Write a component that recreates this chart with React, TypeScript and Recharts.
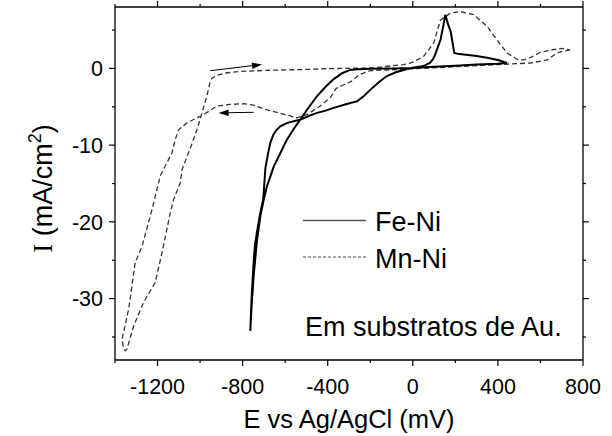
import { LineChart, Line, XAxis, YAxis, Legend, ReferenceLine, Label } from 'recharts';

// Fe-Ni loop, starting at the positive vertex and sweeping cathodically first
const feNiE = [
  443, 400, 300, 200, 100, 0, -100, -200, -260, -294, -330, -372, -410, -450, -490, -530, -560, -592,
  -615, -654, -686, -700, -717, -733, -748, -758, -764,
  -758, -750, -742, -733, -718, -703, -693, -682, -670, -655, -640, -623, -590, -560, -530, -490, -450,
  -410, -372, -330, -294, -262, -230, -200, -160, -122, -80, -43, 0, 50, 80, 95, 105, 118, 130, 143, 153,
  165, 178, 186, 195, 210, 240, 300, 350, 400, 443,
];
const feNiI = [
  0.7, 0.6, 0.5, 0.35, 0.2, 0.05, 0, -0.05, -0.12, -0.2, -0.6, -1.4, -2.4, -3.6, -5.1, -6.7, -7.9, -9.3,
  -10.6, -12.8, -15.4, -17, -19.3, -22.5, -27, -31, -34.2,
  -30, -26, -23, -21.4, -19, -17, -13, -11.3, -9.7, -8.6, -8.0, -7.55, -7.1, -6.9, -6.7, -6.2, -5.8,
  -5.5, -5.15, -4.8, -4.5, -4.3, -3.6, -2.8, -1.8, -1.0, -0.5, -0.2, 0.1, 0.3, 0.7, 1.2, 1.8, 2.8, 3.7, 5.5, 7.0,
  5.8, 4.8, 3.5, 2.0, 1.9, 1.8, 1.6, 1.4, 1.1, 0.7,
];

// Mn-Ni loop, starting at the positive vertex
const mnNiE = [
  740, 700, 678, 631, 553, 396, 239, 82, -75, -200, -250, -290, -330, -360, -388, -435, -497, -544, -576,
  -630, -686, -750, -795, -860, -920, -983, -1062, -1101, -1117, -1132, -1156, -1187, -1211, -1226, -1273,
  -1305, -1336, -1367, -1360, -1352,
  -1344, -1313, -1266, -1211, -1179, -1140, -1125, -1093, -1085, -1046, -1015, -991, -968, -955, -945, -920,
  -880, -811, -686, -529, -388, -200, -43, 0, 51, 98, 130, 177, 224, 286, 349, 396, 443, 490, 521, 560, 600,
  650, 700, 740,
];
const mnNiI = [
  2.4, 2.2, 2.0, 1.1, 0.7, 0.5, 0.27, 0.05, -0.15, -0.3, -0.8, -1.7, -2.2, -2.6, -3.8, -4.9, -6.0, -6.45, -6.2,
  -5.8, -5.4, -4.8, -4.6, -4.7, -4.9, -6.0, -7.1, -8.0, -9.3, -11.0, -12.3, -14.0, -16.7, -18.4, -23.2,
  -25.3, -31.4, -35.3, -36.5, -36.8,
  -36.6, -33.6, -30.5, -27.9, -24.0, -18.8, -17.1, -14.9, -13.2, -10.4, -8.0, -5.8, -3.6, -2.0, -1.3, -0.9,
  -0.6, -0.4, -0.25, -0.16, -0.03, 0.05, 0.49, 0.8, 1.57, 3.3, 6.3, 7.2, 7.4, 7.0, 5.5, 3.7, 2.0, 1.2, 1.1, 1.5, 2.1,
  2.4, 2.6, 2.4,
];

// sweep-direction arrows: [E start, I start, E head, I head]
const sweepArrows = [
  [-952, -0.3, -709, 0.5],
  [-748, -5.72, -913, -5.8],
];

const xTicks = [-1400, -1200, -1000, -800, -600, -400, -200, 0, 200, 400, 600, 800];
const yTicks = [-35, -30, -25, -20, -15, -10, -5, 0, 5];

const FONT = '"Liberation Sans", Arial, sans-serif';

const feNiData = feNiE.map((e, k) => ({ e, i: feNiI[k] }));
const mnNiData = mnNiE.map((e, k) => ({ e, i: mnNiI[k] }));

const TICK = 6;
const MINOR = 3;

function BottomTick({ x, y, payload }: any) {
  const v = payload.value;
  const major = v % 400 === 0;
  const y0 = y - TICK - 13;
  return (
    <g>
      <line x1={x} x2={x} y1={y0} y2={y0 + (major ? TICK : MINOR)} stroke="#000" strokeWidth={1.2} />
      {major && (
        <text x={x} y={y} dy="0.71em" textAnchor="middle" fontSize={21.5} fontFamily={FONT} fill="#000">{v}</text>
      )}
    </g>
  );
}

function TopTick({ x, y, payload }: any) {
  const major = payload.value % 400 === 0;
  const y0 = y + TICK;
  return <line x1={x} x2={x} y1={y0} y2={y0 - (major ? TICK : MINOR)} stroke="#000" strokeWidth={1.2} />;
}

function LeftTick({ x, y, payload }: any) {
  const v = payload.value;
  const major = v % 10 === 0;
  const x0 = x + TICK + 6;
  return (
    <g>
      <line x1={x0} x2={x0 - (major ? TICK : MINOR)} y1={y} y2={y} stroke="#000" strokeWidth={1.2} />
      {major && (
        <text x={x} y={y} dy="0.355em" textAnchor="end" fontSize={21.5} fontFamily={FONT} fill="#000">{v}</text>
      )}
    </g>
  );
}

function RightTick({ x, y, payload }: any) {
  const major = payload.value % 10 === 0;
  const x0 = x - TICK;
  return <line x1={x0} x2={x0 + (major ? TICK : MINOR)} y1={y} y2={y} stroke="#000" strokeWidth={1.2} />;
}

function Arrow({ x1, y1, x2, y2 }: any) {
  const a = Math.atan2(y2 - y1, x2 - x1);
  const len = 10;
  const w = 3.2;
  const bx = x2 - len * Math.cos(a);
  const by = y2 - len * Math.sin(a);
  const px = -Math.sin(a) * w;
  const py = Math.cos(a) * w;
  return (
    <g>
      <line x1={x1} y1={y1} x2={bx} y2={by} stroke="#000" strokeWidth={1} />
      <polygon points={`${x2},${y2} ${bx + px},${by + py} ${bx - px},${by - py}`} fill="#000" />
    </g>
  );
}

function YTitle({ viewBox }: any) {
  const bx = viewBox.x + 46.7;
  const cy = viewBox.y + viewBox.height / 2 + 5;
  return (
    <text x={bx} y={cy} transform={`rotate(-90, ${bx}, ${cy})`} textAnchor="middle" fontSize={27} fontFamily={FONT} fill="#000">
      <tspan fontFamily='"Liberation Serif", serif'>I</tspan>
      <tspan> (mA/cm</tspan>
      <tspan dy={-11} fontSize={18}>2</tspan>
      <tspan dy={11}>)</tspan>
    </text>
  );
}

function LegendBox() {
  return (
    <svg width={612} height={436} style={{ position: 'absolute', left: 0, top: 0 }}>
      <line x1={303} x2={366} y1={220.5} y2={220.5} stroke="#555" strokeWidth={1.3} />
      <text x={375} y={231} fontSize={27} fontFamily={FONT} fill="#000">Fe-Ni</text>
      <line x1={303} x2={366} y1={257} y2={257} stroke="#888" strokeWidth={1.3} strokeDasharray="3 2" />
      <text x={375} y={268} fontSize={27} fontFamily={FONT} fill="#000">Mn-Ni</text>
      <text x={305} y={336} fontSize={27} fontFamily={FONT} fill="#000">Em substratos de Au.</text>
    </svg>
  );
}

export default function App() {
  return (
    <div style={{ position: 'absolute', left: 0, top: 0, width: 612, height: 436, background: '#fff' }}>
      <LineChart width={612} height={436} margin={{ top: 6, right: 28, bottom: 4, left: 5 }}>
        <XAxis
          type="number" dataKey="e" domain={[-1400, 800]} ticks={xTicks} allowDataOverflow
          height={72} tickSize={TICK} tickMargin={13} tickLine={false} tick={<BottomTick />}
          stroke="#000" strokeWidth={1.3} interval={0}
          label={{ value: 'E vs Ag/AgCl (mV)', position: 'insideBottom', offset: 4, fill: '#000', fontSize: 25.5, fontFamily: FONT }}
        />
        <XAxis
          xAxisId="top" orientation="top" type="number" dataKey="e" domain={[-1400, 800]} ticks={xTicks}
          allowDataOverflow height={1} tickSize={TICK} tickMargin={0} tickLine={false} tick={<TopTick />}
          stroke="#000" strokeWidth={1.3} interval={0}
        />
        <YAxis
          type="number" domain={[-38, 8]} ticks={yTicks} allowDataOverflow width={110}
          tickSize={TICK} tickMargin={6} tickLine={false} tick={<LeftTick />}
          stroke="#000" strokeWidth={1.3} interval={0}
          label={<Label content={(p: any) => <YTitle viewBox={p.viewBox} />} />}
        />
        <YAxis
          yAxisId="right" orientation="right" type="number" domain={[-38, 8]} ticks={yTicks} allowDataOverflow
          width={1} tickSize={TICK} tickMargin={0} tickLine={false} tick={<RightTick />}
          stroke="#000" strokeWidth={1.3} interval={0}
        />
        <Legend
          layout="vertical" align="center" verticalAlign="middle"
          wrapperStyle={{ left: 0, top: 0, width: 612, height: 436, pointerEvents: 'none' }}
          content={() => <LegendBox />}
        />
        {sweepArrows.map(([e1, i1, e2, i2], k) => (
          <ReferenceLine
            key={k}
            segment={[{ x: e1, y: i1 }, { x: e2, y: i2 }]}
            shape={(p: any) => <Arrow {...p} />}
            ifOverflow="visible"
          />
        ))}
        {/* invisible copy so the mirrored top/right axes get a domain */}
        <Line
          data={mnNiData} dataKey="i" xAxisId="top" yAxisId="right" type="linear" dot={false}
          stroke="none" legendType="none" isAnimationActive={false}
        />
        <Line
          data={mnNiData} dataKey="i" name="Mn-Ni" type="linear" dot={false}
          stroke="#333" strokeWidth={1.3} strokeDasharray="5 3" isAnimationActive={false}
        />
        <Line
          data={feNiData} dataKey="i" name="Fe-Ni" type="linear" dot={false}
          stroke="#000" strokeWidth={2} isAnimationActive={false}
        />
      </LineChart>
    </div>
  );
}
